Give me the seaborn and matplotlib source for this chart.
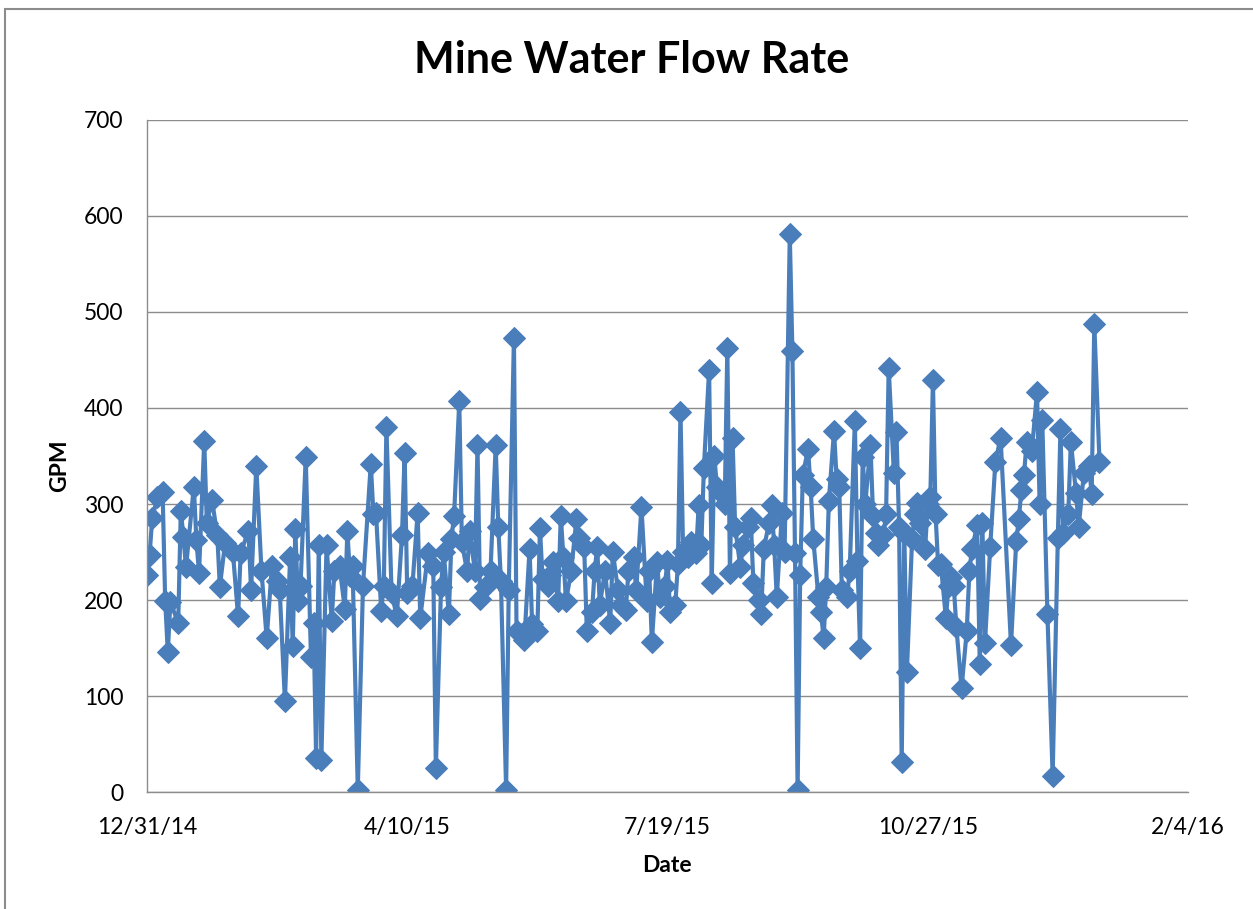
import pandas as pd
import matplotlib
matplotlib.use("Agg")
import matplotlib.pyplot as plt
import matplotlib.dates as mdates
import seaborn as sns

# days after 12/31/14 and the flow rate read for each sample
days = [0, 1, 2, 4, 6, 7, 8, 9, 12, 13, 14, 15, 18, 19, 20, 22, 23, 25, 27, 28,
        30, 33, 35, 36, 39, 40, 42, 44, 46, 48, 50, 51, 53, 55, 56, 57, 58, 59, 61, 63,
        64, 65, 66, 67, 69, 71, 72, 74, 76, 77, 78, 79, 81, 83, 86, 87, 88, 90, 91, 92,
        94, 96, 98, 99, 100, 102, 104, 105, 108, 110, 111, 113, 114, 116, 117, 118, 120, 121, 123, 124,
        126, 127, 128, 130, 132, 134, 135, 136, 138, 139, 141, 142, 144, 145, 147, 148, 150, 151, 152, 154,
        155, 156, 158, 159, 160, 161, 163, 165, 166, 168, 169, 171, 172, 173, 174, 176, 178, 179, 181, 182,
        184, 185, 187, 188, 190, 192, 193, 194, 196, 197, 199, 200, 201, 203, 204, 205, 206, 208, 209, 211,
        212, 213, 214, 216, 217, 218, 219, 221, 222, 223, 224, 225, 226, 228, 229, 231, 232, 233, 235, 236,
        237, 239, 240, 241, 242, 244, 245, 247, 248, 249, 250, 251, 252, 254, 255, 256, 258, 259, 260, 261,
        262, 264, 265, 266, 267, 269, 270, 272, 273, 274, 275, 276, 278, 279, 280, 281, 283, 284, 285, 287,
        288, 289, 290, 291, 292, 294, 295, 296, 297, 299, 300, 301, 302, 303, 304, 305, 307, 308, 309, 310,
        311, 313, 315, 316, 317, 319, 320, 321, 322, 324, 326, 328, 332, 334, 335, 336, 337, 338, 340, 342,
        343, 344, 346, 348, 350, 351, 352, 354, 355, 357, 358, 360, 362, 363, 364, 366]
gpm = [226, 247, 285, 307, 313, 199, 146, 198, 176, 293, 266, 234, 318, 262, 228, 366, 280, 304, 268, 214,
       259, 250, 183, 249, 272, 210, 340, 230, 160, 235, 220, 210, 95, 245, 152, 274, 199, 215, 349, 141,
       176, 35, 257, 33, 257, 178, 230, 235, 191, 272, 225, 235, 2, 215, 342, 290, 291, 189, 215, 380,
       207, 183, 268, 353, 207, 215, 291, 181, 249, 235, 25, 214, 250, 185, 264, 288, 407, 260, 230, 272,
       230, 361, 201, 214, 230, 361, 276, 220, 2, 210, 473, 168, 165, 158, 253, 175, 168, 275, 222, 215,
       226, 240, 199, 288, 245, 199, 230, 284, 265, 255, 168, 187, 230, 255, 195, 230, 176, 250, 210, 195,
       190, 230, 245, 210, 297, 199, 230, 156, 240, 203, 215, 241, 187, 195, 237, 396, 250, 245, 260, 249,
       299, 257, 338, 440, 218, 350, 318, 310, 300, 463, 228, 369, 276, 234, 257, 276, 285, 218, 200, 185,
       253, 280, 299, 257, 203, 291, 250, 581, 459, 249, 2, 226, 330, 357, 318, 264, 203, 187, 160, 214,
       303, 376, 326, 318, 210, 203, 230, 386, 241, 150, 349, 300, 361, 288, 270, 257, 268, 290, 442, 332,
       375, 276, 31, 270, 125, 264, 290, 301, 280, 253, 300, 307, 429, 290, 236, 238, 181, 215, 224, 215,
       172, 108, 168, 230, 253, 278, 133, 280, 155, 255, 344, 369, 153, 261, 284, 315, 330, 365, 355, 417,
       300, 388, 185, 17, 265, 378, 270, 290, 365, 311, 276, 332, 340, 310, 488, 344]

tick_dates = ["2014-12-31", "2015-04-10", "2015-07-19", "2015-10-27", "2016-02-04"]
tick_labels = ["12/31/14", "4/10/15", "7/19/15", "10/27/15", "2/4/16"]
y_ticks = [0, 100, 200, 300, 400, 500, 600, 700]

df = pd.DataFrame({
    "Date": pd.Timestamp("2014-12-31") + pd.to_timedelta(days, unit="D"),
    "GPM": gpm,
})

sns.set_style("white")
plt.rcParams["font.family"] = ["Lato", "DejaVu Sans"]
plt.rcParams["text.color"] = "black"
plt.rcParams["axes.labelcolor"] = "black"
plt.rcParams["xtick.color"] = "black"
plt.rcParams["ytick.color"] = "black"

fig = plt.figure(figsize=(12.53, 9.09), dpi=100)
ax = fig.add_axes([0.1173, 0.1287, 0.8308, 0.7393])

blue = "#4A7EBB"
sns.lineplot(data=df, x="Date", y="GPM", ax=ax, estimator=None, sort=False,
             color=blue, linewidth=3, marker="D", markersize=11,
             markeredgecolor=blue, markerfacecolor=blue)

ax.set_xlim(pd.Timestamp(tick_dates[0]), pd.Timestamp(tick_dates[-1]))
ax.set_ylim(0, 700)
ax.set_xticks([mdates.date2num(pd.Timestamp(d)) for d in tick_dates])
ax.set_xticklabels(tick_labels, fontsize=16.5)
ax.set_yticks(y_ticks)
ax.set_yticklabels([str(v) for v in y_ticks], fontsize=16.5)
ax.yaxis.grid(True, color="#8c8c8c", linewidth=1)
ax.set_axisbelow(True)
for side in ["top", "right"]:
    ax.spines[side].set_visible(False)
for side in ["left", "bottom"]:
    ax.spines[side].set_color("#8c8c8c")
    ax.spines[side].set_linewidth(1)
ax.tick_params(axis="x", length=0, pad=18)
ax.tick_params(axis="y", length=0, pad=17)

ax.set_xlabel("Date", fontsize=16.5, fontweight="bold", va="center")
ax.xaxis.set_label_coords(0.4995, -0.110)
ax.set_ylabel("GPM", fontsize=16.5, fontweight="bold", va="center")
ax.yaxis.set_label_coords(-0.0836, 0.485)
fig.text(0.504, 0.934, "Mine Water Flow Rate", ha="center", va="center",
         fontsize=31, fontweight="bold", color="black")

# outer chart border
fig.patches.append(plt.Rectangle((0.004, -0.01), 1.05, 1.0, transform=fig.transFigure,
                                 fill=False, edgecolor="#8c8c8c", linewidth=1.5))

fig.savefig("out.png", dpi=100)
